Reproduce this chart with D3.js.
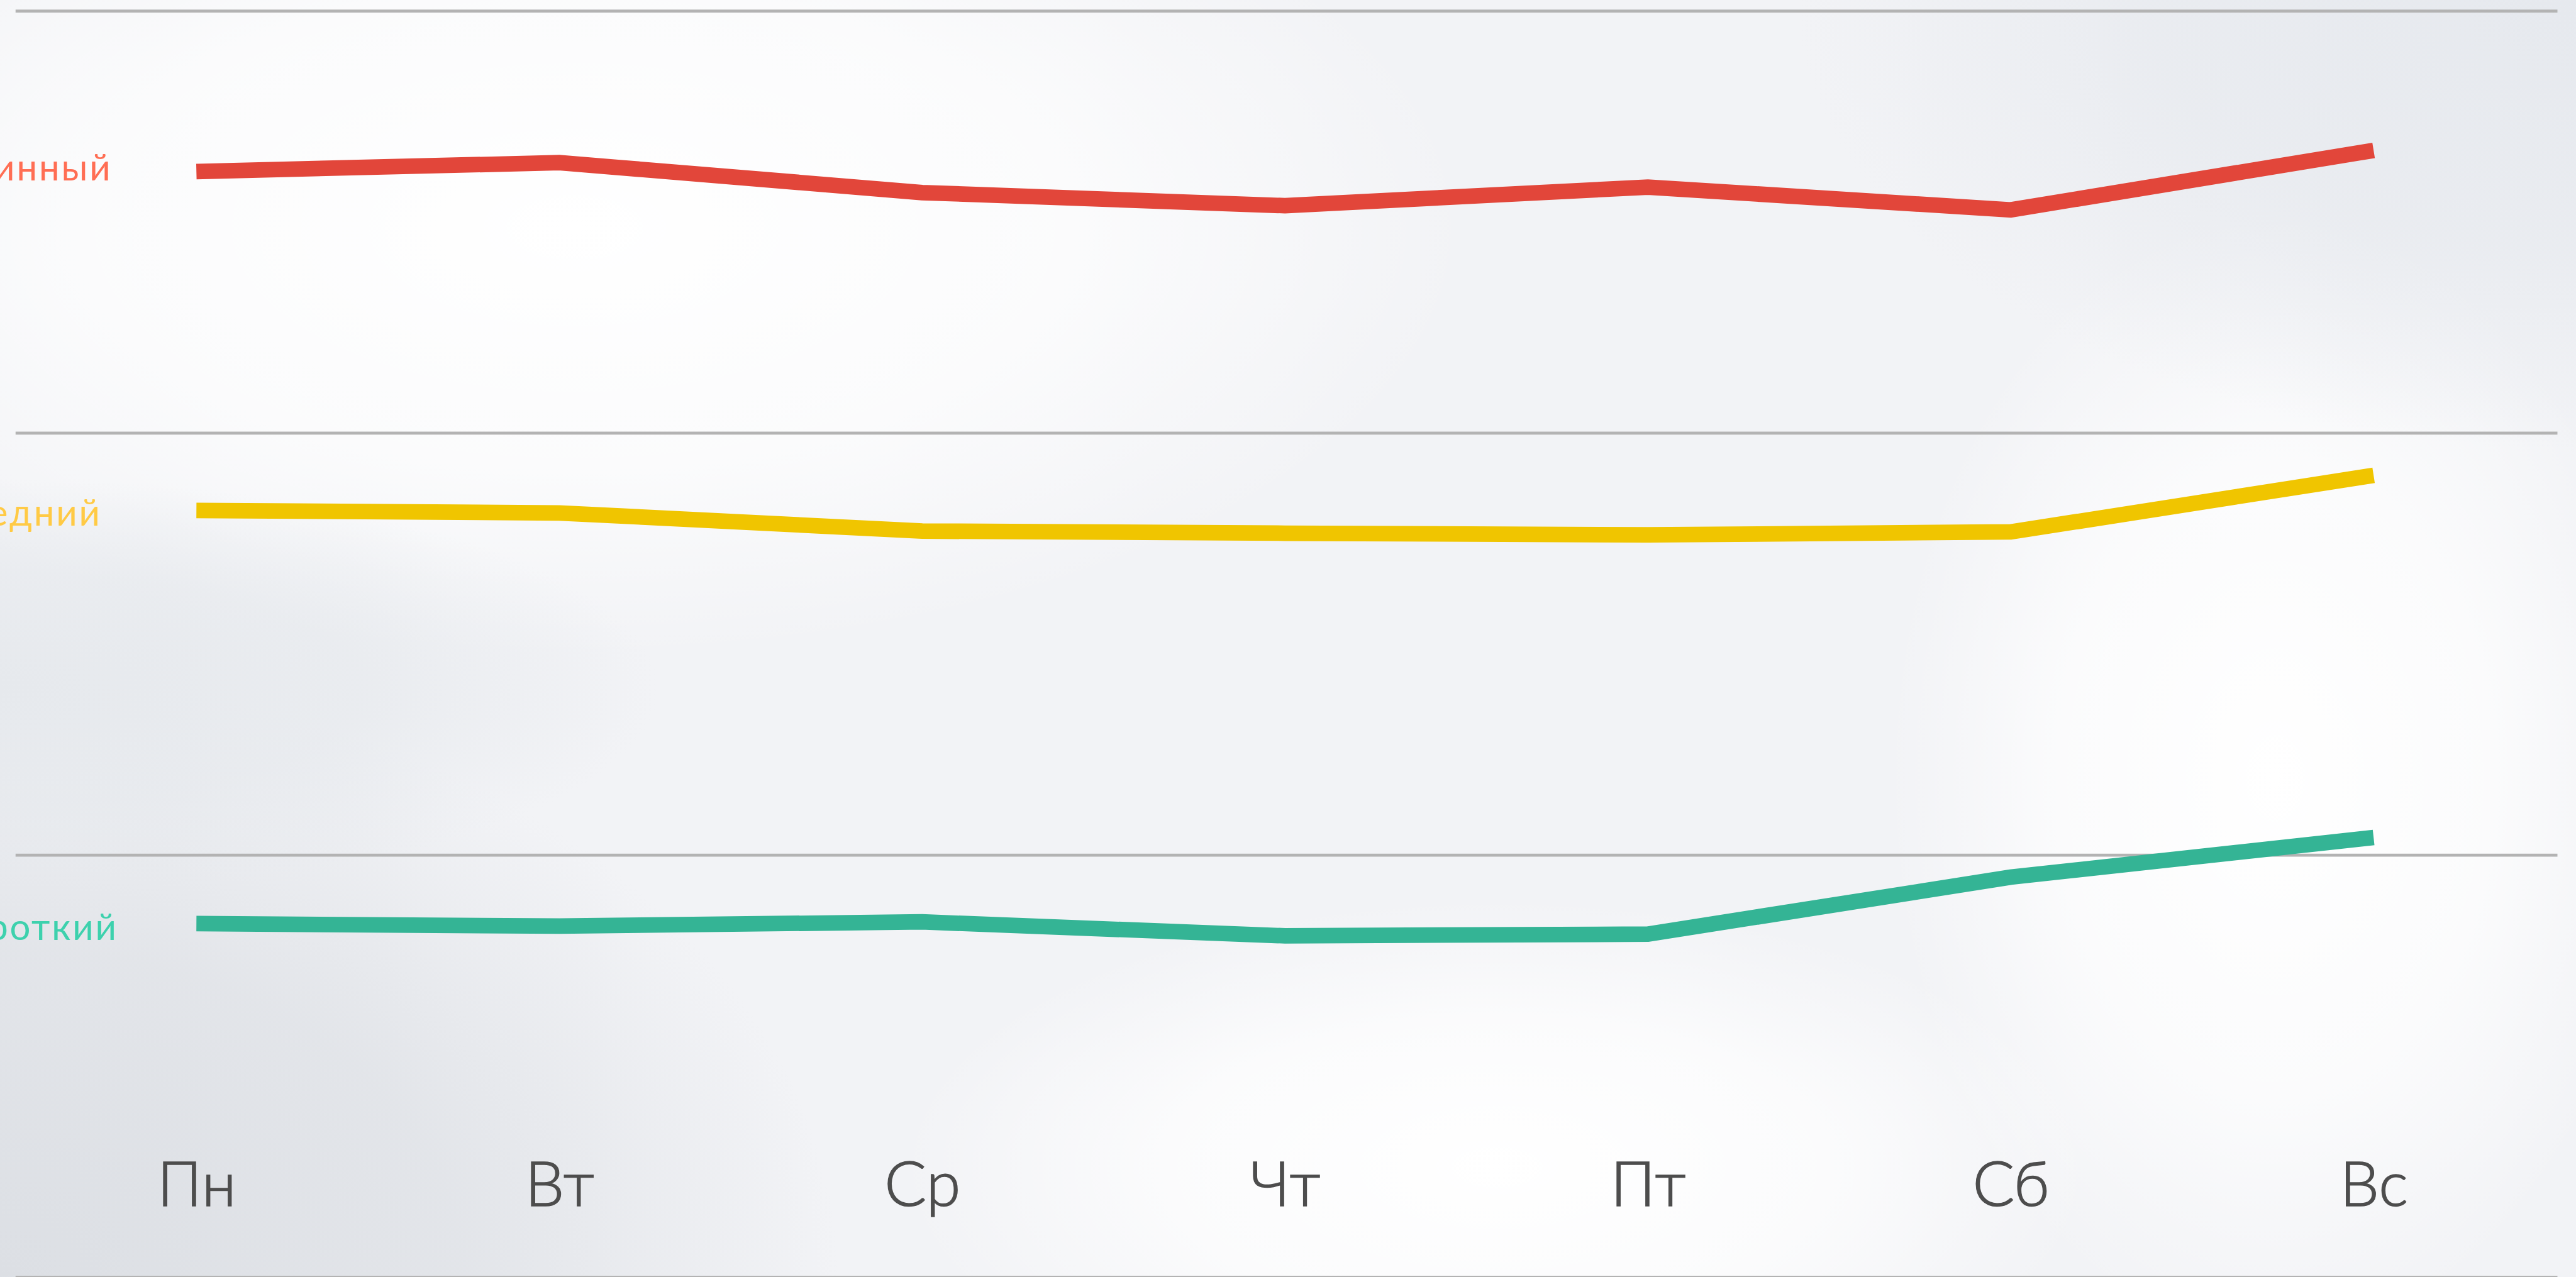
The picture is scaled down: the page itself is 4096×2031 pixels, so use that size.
<!DOCTYPE html>
<html>
<head>
<meta charset="utf-8">
<script src="https://cdn.jsdelivr.net/npm/d3@7"></script>
<style>
  html, body { margin: 0; padding: 0; overflow: hidden; background: #f3f4f6; }
  svg { display: block; }
</style>
</head>
<body>
<div id="chart"></div>
<script>
// Days of week on the x axis
const days = ['Пн', 'Вт', 'Ср', 'Чт', 'Пт', 'Сб', 'Вс'];

// Series names (clipped at the left edge in the original)
const seriesNames = ['Длинный', 'Средний', 'Короткий'];

// Values (gridlines at 0, 10, 20, 30)
const longValues  = [26.20, 26.41, 25.70, 25.39, 25.83, 25.29, 26.70];
const midValues   = [18.17, 18.11, 17.68, 17.63, 17.59, 17.66, 19.00];
const shortValues = [ 8.38,  8.32,  8.42,  8.09,  8.13,  9.48, 10.42];

const gridTicks = [0, 10, 20, 30];

// Reference size, scaled down into the window via viewBox
const W = 4302, H = 2133;
const width = 4096, height = 2031;

const lineColors  = ['#e2463a', '#f0c500', '#34b495'];
const labelColors = ['#ff6e54', '#ffca45', '#3dd1ad'];
const labelDy     = [15, 25, 27]; // baseline offset from the first point

const svg = d3.select('#chart').append('svg')
  .attr('width', width)
  .attr('height', height)
  .attr('viewBox', `0 0 ${W} ${H}`);

// ---- soft background blobs
const defs = svg.append('defs');
const blobs = [
  {id: 'b1', cx: 960,  cy: 380,  rx: 1500, ry: 720, c: '#ffffff'},
  {id: 'b2', cx: 3800, cy: 1300, rx: 650,  ry: 950, c: '#ffffff'},
  {id: 'b3', cx: 2500, cy: 1950, rx: 1000, ry: 450, c: '#ffffff'},
  {id: 'b4', cx: 0,    cy: 2133, rx: 1400, ry: 1000, c: '#dcdfe4'},
  {id: 'b5', cx: 4302, cy: 0,    rx: 1300, ry: 750, c: '#e6e9ee'},
  {id: 'b6', cx: 0,    cy: 1150, rx: 1100, ry: 350, c: '#e6e9ed'}
];
blobs.forEach(b => {
  const g = defs.append('radialGradient').attr('id', b.id);
  g.append('stop').attr('offset', '0%').attr('stop-color', b.c).attr('stop-opacity', 1);
  g.append('stop').attr('offset', '55%').attr('stop-color', b.c).attr('stop-opacity', 0.7);
  g.append('stop').attr('offset', '100%').attr('stop-color', b.c).attr('stop-opacity', 0);
});

svg.append('rect').attr('width', W).attr('height', H).attr('fill', '#f2f3f6');
svg.selectAll('ellipse.blob')
  .data(blobs)
  .enter().append('ellipse')
  .attr('class', 'blob')
  .attr('cx', d => d.cx).attr('cy', d => d.cy)
  .attr('rx', d => d.rx).attr('ry', d => d.ry)
  .attr('fill', d => `url(#${d.id})`);

// ---- scales
const x = d3.scalePoint()
  .domain(days)
  .range([328, 3964]);

const y = d3.scaleLinear()
  .domain([0, 30])
  .range([2133.5, 18.5]);

// ---- gridlines
svg.append('g')
  .selectAll('line')
  .data(gridTicks)
  .enter().append('line')
  .attr('x1', 26)
  .attr('x2', 4271)
  .attr('y1', d => y(d))
  .attr('y2', d => y(d))
  .attr('stroke', '#b3b3b3')
  .attr('stroke-width', 5);

// ---- lines
const series = [longValues, midValues, shortValues];

const line = d3.line()
  .x((d, i) => x(days[i]))
  .y(d => y(d));

svg.append('g')
  .selectAll('path')
  .data(series)
  .enter().append('path')
  .attr('d', line)
  .attr('fill', 'none')
  .attr('stroke', (d, i) => lineColors[i])
  .attr('stroke-width', 26)
  .attr('stroke-linejoin', 'miter')
  .attr('stroke-linecap', 'butt');

// ---- series labels on the left
svg.append('g')
  .selectAll('text')
  .data(seriesNames)
  .enter().append('text')
  .attr('x', -100)
  .attr('y', (d, i) => y(series[i][0]) + labelDy[i])
  .attr('fill', (d, i) => labelColors[i])
  .attr('font-family', 'Lato, sans-serif')
  .attr('font-weight', 400)
  .attr('font-size', 61)
  .attr('letter-spacing', 3)
  .text(d => d);

// ---- x axis labels
const xAxis = d3.axisBottom(x).tickSize(0).tickPadding(0);
const ax = svg.append('g')
  .attr('transform', 'translate(0,2014)')
  .call(xAxis);
ax.select('.domain').remove();
ax.selectAll('text')
  .attr('dy', 0)
  .attr('fill', '#4d4d4d')
  .attr('stroke', '#4d4d4d')
  .attr('stroke-width', 1.6)
  .attr('font-family', 'Lato, sans-serif')
  .attr('font-weight', 300)
  .attr('font-size', 104);
</script>
</body>
</html>
